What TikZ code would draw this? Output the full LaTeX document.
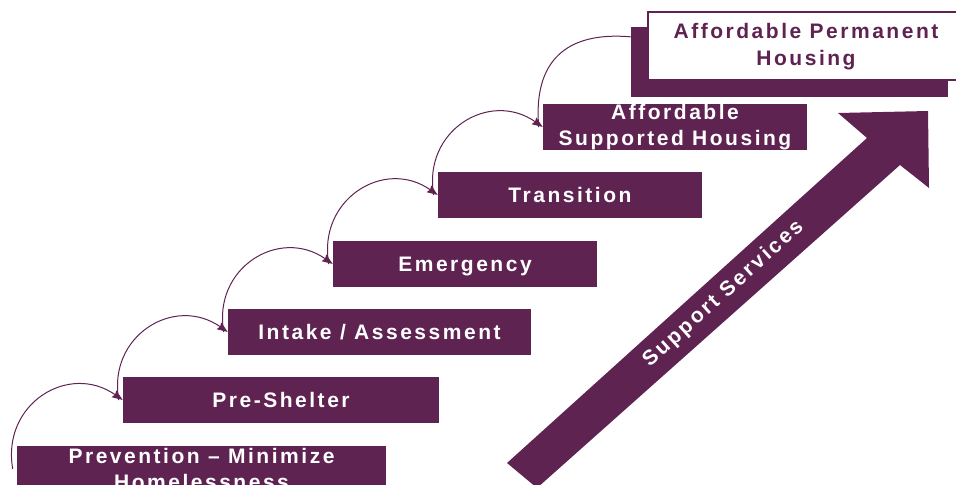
\documentclass[tikz,border=0pt]{standalone}
\usepackage{fontspec}
\usepackage{tikz}
\usetikzlibrary{arrows.meta}

\setmainfont{Liberation Sans}
\newfontfamily\stairfont[LetterSpace=12]{Liberation Sans}
\definecolor{stairpurple}{RGB}{95,35,82}

\tikzset{
  stairbox/.style={fill=stairpurple, inner sep=0pt, minimum height=34.5pt, text=white,
    font={\stairfont\bfseries\fontsize{15.75pt}{19.5pt}\selectfont}, text height=11.25pt, text depth=0pt},
  stairtext/.style={text=white, align=center, inner sep=0pt,
    font={\stairfont\bfseries\fontsize{15.75pt}{19.5pt}\selectfont}},
  stairstep/.style={draw=stairpurple, line width=0.75pt, -{Stealth[length=8pt,width=6pt,inset=1pt]}},
}

\begin{document}
\begin{tikzpicture}[x=0.75pt,y=0.75pt,yscale=-1,xscale=1]
\useasboundingbox (0,0) rectangle (956,485);

%Shape: Right Arrow
\fill[stairpurple] (507,463) -- (867,138) -- (838,113) -- (928,111) -- (929,188) -- (900,165) -- (537,488) -- cycle;
% Text Node
\node[stairtext, rotate=42] (support-text) at (723.5,294) {Support Services};

%Shape: Rectangle
\node[stairbox, minimum width=276.75pt] (prev) at (201.5,469) {};
% Text Node
\node[stairtext] (prev-text) at (prev) {Prevention – Minimize\\Homelessness};
%Shape: Rectangle
\node[stairbox, minimum width=237pt] (shelter) at (281,400) {Pre-Shelter};
%Shape: Rectangle
\node[stairbox, minimum width=227.25pt] (intake) at (379.5,332) {Intake / Assessment};
%Shape: Rectangle
\node[stairbox, minimum width=198pt] (emergency) at (465,264) {Emergency};
%Shape: Rectangle
\node[stairbox, minimum width=198pt] (transition) at (570,195) {Transition};
%Shape: Rectangle
\node[stairbox, minimum width=198pt] (supported) at (675,127) {};
% Text Node
\node[stairtext] (supported-text) at (supported) {Affordable\\Supported Housing};

%Shape: Rectangle (shadow, then the white top box)
\node[fill=stairpurple, inner sep=0pt, minimum width=237.75pt, minimum height=52.5pt] (perm-shadow) at (789.5,62) {};
\node[fill=white, draw=stairpurple, line width=1.1pt, inner sep=0pt, minimum width=237pt, minimum height=51pt] (perm) at (806,46) {};
% Text Node
\node[stairtext, text=stairpurple, font={\stairfont\bfseries\fontsize{15.75pt}{20.25pt}\selectfont}] (perm-text) at (806,47) {Affordable Permanent\\Housing};

%Curve Lines
\draw[stairstep] ([xshift=-3pt]prev.west) to[out=-100,in=-145,looseness=1.3] (shelter.west);
%Curve Lines
\draw[stairstep] ([xshift=-3pt]shelter.west) to[out=-100,in=-145,looseness=1.3] (intake.west);
%Curve Lines
\draw[stairstep] ([xshift=-3pt]intake.west) to[out=-100,in=-145,looseness=1.3] (emergency.west);
%Curve Lines
\draw[stairstep] ([xshift=-3pt]emergency.west) to[out=-100,in=-145,looseness=1.3] (transition.west);
%Curve Lines
\draw[stairstep] ([xshift=-3pt]transition.west) to[out=-100,in=-145,looseness=1.3] (supported.west);
%Curve Lines
\draw[stairstep, -] ([xshift=-3pt]supported.west) to[out=-95,in=-175,looseness=1.3] (perm-shadow.171);

\end{tikzpicture}
\end{document}
